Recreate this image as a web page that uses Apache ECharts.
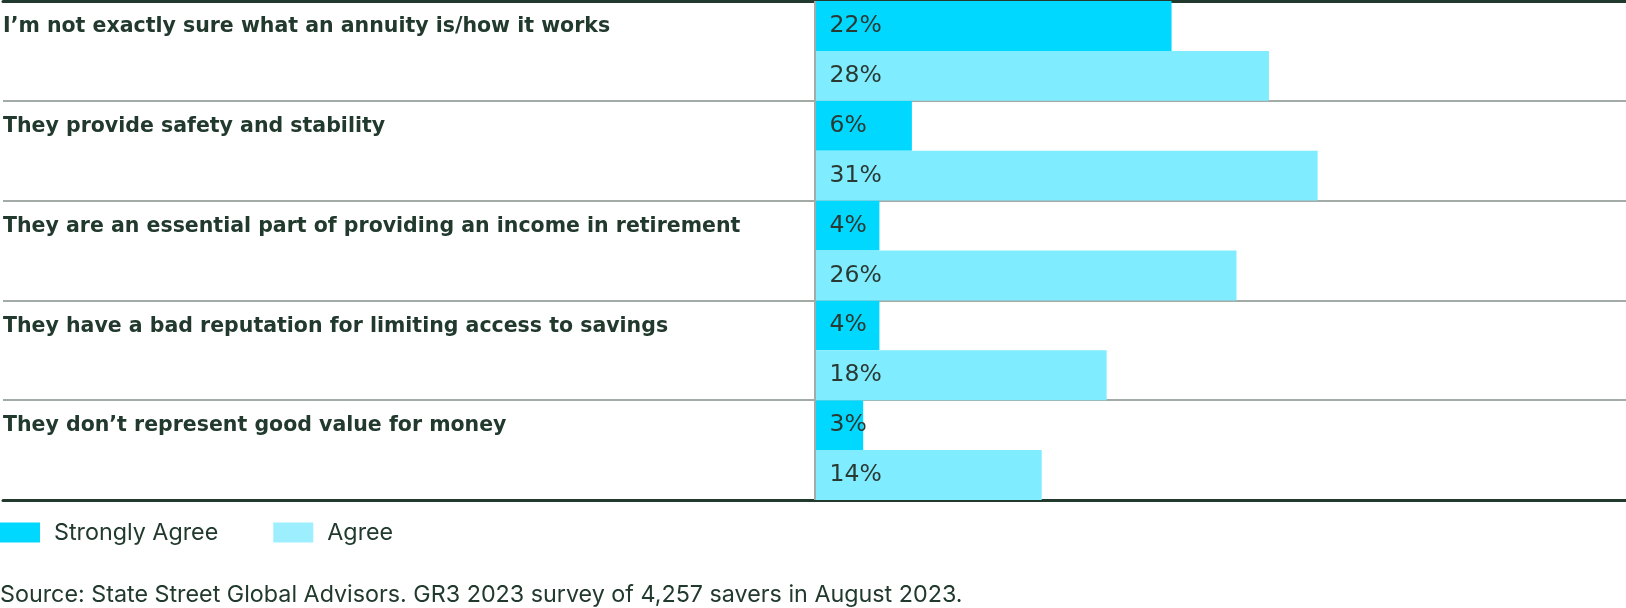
<!DOCTYPE html>
<html>
<head>
<meta charset="utf-8">
<script src="https://cdn.jsdelivr.net/npm/echarts@6/dist/echarts.min.js"></script>
<style>
html,body{margin:0;padding:0;background:#fff;}
#chart{width:1626px;height:608px;}
</style>
</head>
<body>
<div id="chart"></div>
<script>
const categories = [
  "I\u2019m not exactly sure what an annuity is/how it works",
  "They provide safety and stability",
  "They are an essential part of providing an income in retirement",
  "They have a bad reputation for limiting access to savings",
  "They don\u2019t represent good value for money"
];
const seriesNames = ["Strongly Agree", "Agree"];
const stronglyAgree = [22, 6, 4, 4, 3];
const agree = [28, 31, 26, 18, 14];
const sourceText = "Source: State Street Global Advisors. GR3 2023 survey of 4,257 savers in August 2023.";

const dark = "#223a2e";
const chart = echarts.init(document.getElementById('chart'));
const valueLabel = {
  show: true,
  position: 'insideLeft',
  distance: 15,
  formatter: p => p.value + '%',
  color: '#2a3a33',
  fontFamily: 'DejaVu Sans',
  fontSize: 23.5,
  fontWeight: 'normal'
};
chart.setOption({
  animation: false,
  backgroundColor: '#fff',
  title: {
    text: sourceText,
    left: -5,
    top: 578,
    textStyle: { fontFamily: 'Inter', fontSize: 23.3, fontWeight: 'normal', color: dark }
  },
  legend: {
    left: 0,
    top: 521,
    padding: 0,
    itemWidth: 40,
    itemHeight: 20,
    itemGap: 55,
    icon: 'rect',
    textStyle: { fontFamily: 'Inter', fontSize: 23.3, color: dark, padding: [0, 0, 0, 9] },
    data: [
      { name: seriesNames[0], itemStyle: { color: '#00d8ff' } },
      { name: seriesNames[1], itemStyle: { color: '#9defff' } }
    ]
  },
  grid: { left: 0, right: 0, top: 1, bottom: 108, containLabel: false },
  xAxis: [
    {
      type: 'value', min: -50, max: 50, position: 'bottom',
      axisLine: { show: true, onZero: false, lineStyle: { color: dark, width: 3 } },
      axisTick: { show: false }, axisLabel: { show: false }, splitLine: { show: false }
    },
    {
      type: 'value', min: -50, max: 50, position: 'top',
      axisLine: { show: true, onZero: false, lineStyle: { color: dark, width: 3 } },
      axisTick: { show: false }, axisLabel: { show: false }, splitLine: { show: false }
    }
  ],
  yAxis: {
    type: 'category',
    data: categories,
    inverse: true,
    axisLine: { show: false },
    axisTick: { show: false },
    splitLine: { show: true, lineStyle: { color: '#a3aba7', width: 2 } },
    axisLabel: {
      inside: true,
      margin: 0,
      align: 'left',
      verticalAlign: 'bottom',
      lineHeight: 48,
      color: dark,
      fontFamily: 'DejaVu Sans',
      fontWeight: 'bold',
      fontSize: 20.5
    }
  },
  series: [
    {
      name: seriesNames[0], type: 'bar', data: stronglyAgree,
      xAxisIndex: 0,
      barGap: '0%', barCategoryGap: '0%',
      itemStyle: { color: '#00d8ff' },
      label: valueLabel,
      markLine: {
        silent: true, symbol: 'none', label: { show: false },
        lineStyle: { color: '#a3aba7', width: 2, type: 'solid' },
        data: [{ xAxis: 0 }]
      }
    },
    {
      name: seriesNames[1], type: 'bar', data: agree,
      xAxisIndex: 0,
      barGap: '0%', barCategoryGap: '0%',
      itemStyle: { color: '#80ecff' },
      label: valueLabel
    }
  ]
});
</script>
</body>
</html>
